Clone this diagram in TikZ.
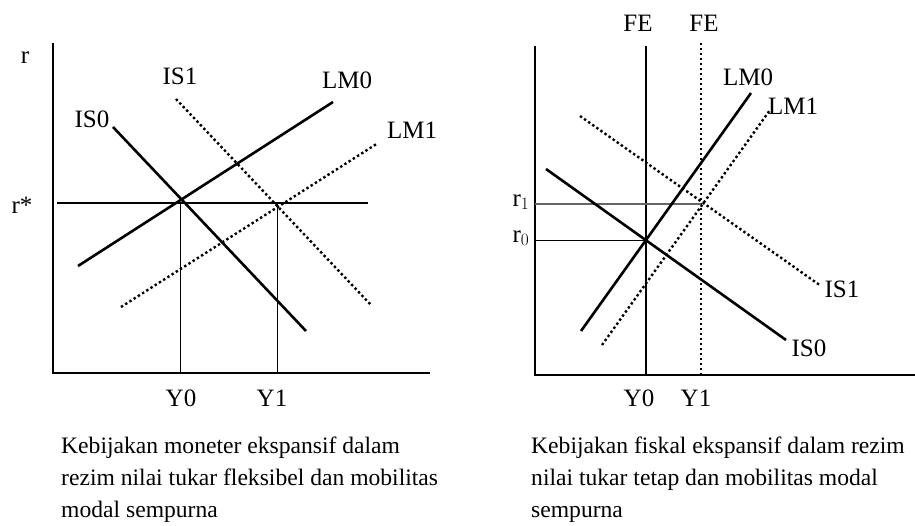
\documentclass[tikz,border=0pt]{standalone}
\usepackage{fontspec}
\setmainfont{Liberation Serif}
\begin{document}
\begin{tikzpicture}[x=1pt,y=-1pt,
  axis/.style={line width=1.6pt},
  curve/.style={line width=2.6pt},
  dotcurve/.style={line width=2.4pt, dash pattern=on 2.4pt off 2.6pt},
  guide/.style={line width=1pt},
  lab/.style={font=\fontsize{25}{25}\selectfont, inner sep=0pt},
  captxt/.style={font=\fontsize{23.6}{30}\selectfont, inner sep=0pt, anchor=base west}]
\useasboundingbox (0,0) rectangle (915,525);
% ---------------- left panel ----------------
\coordinate (Ltop) at (53,43);
\coordinate (Lo) at (53,373);
\coordinate (Lr) at (430,373);
\draw[axis] (Ltop) -- (Lo) -- (Lr);
\coordinate (rsA) at (57,203);
\coordinate (rsB) at (368,203);
\draw[line width=2pt] (rsA) -- (rsB);
\coordinate (E0) at (180,203);
\coordinate (E1) at (277,203);
\coordinate (F0) at (180,373);
\coordinate (F1) at (277,373);
\draw[guide] (E0) -- (F0);
\draw[guide] (E1) -- (F1);
\coordinate (is0a) at (113,127);
\coordinate (is0b) at (306,331);
\draw[curve] (is0a) -- (is0b);
\coordinate (is1a) at (176,99);
\coordinate (is1b) at (371,305);
\draw[dotcurve] (is1a) -- (is1b);
\coordinate (lm0a) at (78,266);
\coordinate (lm0b) at (333,102);
\draw[curve] (lm0a) -- (lm0b);
\coordinate (lm1a) at (121,307);
\coordinate (lm1b) at (378,143);
\draw[dotcurve] (lm1a) -- (lm1b);
\node[lab] (Lrlab) at (25,58) {r};
\node[lab] (Lrs) at (22,205) {r*};
\node[lab] (Lis0) at (92,119) {IS0};
\node[lab] (Lis1) at (180,76) {IS1};
\node[lab] (Llm0) at (347,80) {LM0};
\node[lab] (Llm1) at (412,130) {LM1};
\node[lab] (LY0) at (181,398) {Y0};
\node[lab] (LY1) at (272,398) {Y1};
% ---------------- right panel ----------------
\coordinate (Rtop) at (535,46);
\coordinate (Ro) at (535,375);
\coordinate (Rr) at (915,375);
\draw[axis] (Rtop) -- (Ro) -- (Rr);
\coordinate (fe0a) at (646,46);
\coordinate (fe0b) at (646,375);
\draw[curve] (fe0a) -- (fe0b);
\coordinate (fe1a) at (701,43);
\coordinate (fe1b) at (701,375);
\draw[dotcurve] (fe1a) -- (fe1b);
\coordinate (r1a) at (535,204);
\coordinate (r1b) at (701,204);
\draw[line width=1.6pt, black!60] (r1a) -- (r1b);
\coordinate (r0a) at (535,240);
\coordinate (r0b) at (646,240);
\draw[guide] (r0a) -- (r0b);
\coordinate (Rlm0a) at (581,331);
\coordinate (Rlm0b) at (751,93);
\draw[curve] (Rlm0a) -- (Rlm0b);
\coordinate (Rlm1a) at (602,345);
\coordinate (Rlm1b) at (770,110);
\draw[dotcurve] (Rlm1a) -- (Rlm1b);
\coordinate (Ris0a) at (546,169);
\coordinate (Ris0b) at (786,340);
\draw[curve] (Ris0a) -- (Ris0b);
\coordinate (Ris1a) at (580,116);
\coordinate (Ris1b) at (821,286);
\draw[dotcurve] (Ris1a) -- (Ris1b);
\node[lab] (Rfe0) at (638,23) {FE};
\node[lab] (Rfe1) at (704,23) {FE};
\node[lab] (Rlm0l) at (748,77) {LM0};
\node[lab] (Rlm1l) at (793,106) {LM1};
\node[lab] (Ris0l) at (809,348) {IS0};
\node[lab] (Ris1l) at (842,289) {IS1};
\node[lab, anchor=base] (Rr1) at (521,206) {r$_1$};
\node[lab, anchor=base] (Rr0) at (521,242) {r$_0$};
\node[lab] (RY0) at (639,398) {Y0};
\node[lab] (RY1) at (696,398) {Y1};
% ---------------- captions ----------------
\node[captxt] (c1a) at (61,453) {Kebijakan moneter ekspansif dalam};
\node[captxt] (c1b) at (61,485) {rezim nilai tukar fleksibel dan mobilitas};
\node[captxt] (c1c) at (61,517) {modal sempurna};
\node[captxt] (c2a) at (531,453) {Kebijakan fiskal ekspansif dalam rezim};
\node[captxt] (c2b) at (531,485) {nilai tukar tetap dan mobilitas modal};
\node[captxt] (c2c) at (531,517) {sempurna};
\end{tikzpicture}
\end{document}
